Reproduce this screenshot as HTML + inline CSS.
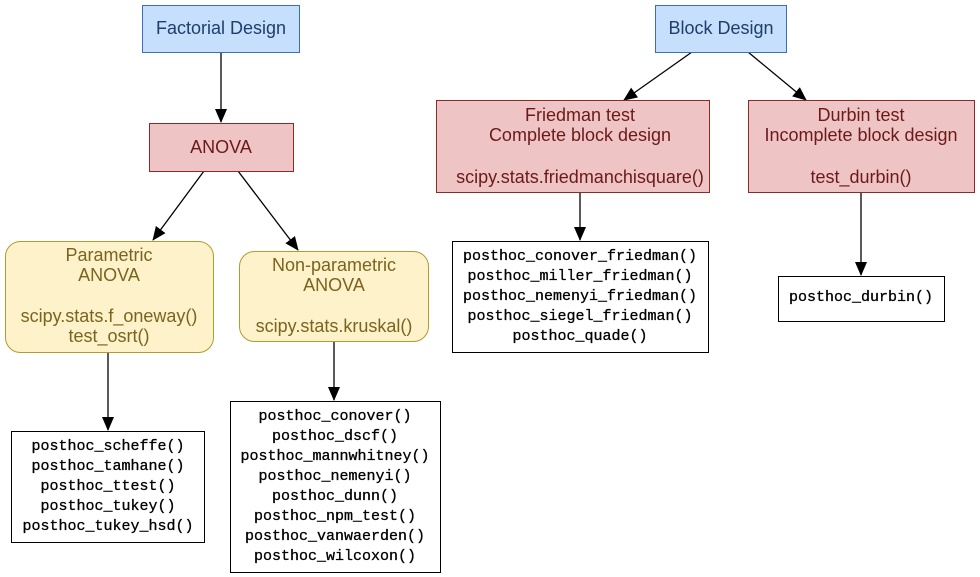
<!DOCTYPE html>
<html><head><meta charset="utf-8"><style>
html,body{margin:0;padding:0;background:#fff}
svg{display:block}
.s{font-family:"Liberation Sans",sans-serif;font-size:18px;text-anchor:middle}
.m{font-family:"Liberation Mono",monospace;font-size:15px;text-anchor:middle;fill:#000;stroke:#000;stroke-width:0.3}
.b{fill:#1f3d6d}.r{fill:#6b1a1a}.y{fill:#7a6420}
</style></head><body>
<svg width="980" height="577" viewBox="0 0 980 577" xmlns="http://www.w3.org/2000/svg">
<defs><marker id="a" markerWidth="14" markerHeight="12" refX="13" refY="6" orient="auto" markerUnits="userSpaceOnUse"><path d="M0,0 L14,6 L0,12 z" fill="#000"/></marker></defs>
<g stroke="#000" stroke-width="1.3" fill="none" marker-end="url(#a)">
<line x1="221" y1="52" x2="221" y2="122"/>
<line x1="204" y1="171" x2="153" y2="240"/>
<line x1="238" y1="171" x2="298" y2="250"/>
<line x1="108" y1="352" x2="108" y2="430"/>
<line x1="334" y1="341" x2="334" y2="400"/>
<line x1="692" y1="52" x2="624" y2="100"/>
<line x1="748" y1="52" x2="806" y2="100"/>
<line x1="580" y1="192" x2="580" y2="240"/>
<line x1="861" y1="192" x2="861" y2="275"/>
</g>
<rect x="142.5" y="5.5" width="157" height="47" fill="#c6dffc" stroke="#3a6fc0"/>
<text class="s b" x="221" y="34">Factorial Design</text>
<rect x="655.5" y="5.5" width="131" height="47" fill="#c6dffc" stroke="#3a6fc0"/>
<text class="s b" x="721" y="34">Block Design</text>
<rect x="149.5" y="123.5" width="144" height="48" fill="#efc4c5" stroke="#8a2a2a"/>
<text class="s r" x="221" y="153">ANOVA</text>
<rect x="436.5" y="100.5" width="273" height="92" fill="#efc4c5" stroke="#8a2a2a"/>
<text class="s r" x="580" y="121">Friedman test</text>
<text class="s r" x="580" y="141">Complete block design</text>
<text class="s r" x="580" y="183">scipy.stats.friedmanchisquare()</text>
<rect x="748.5" y="100.5" width="226" height="92" fill="#efc4c5" stroke="#8a2a2a"/>
<text class="s r" x="861" y="121">Durbin test</text>
<text class="s r" x="861" y="141">Incomplete block design</text>
<text class="s r" x="861" y="183">test_durbin()</text>
<rect x="5.5" y="241.5" width="208" height="111" rx="15" fill="#fdf2c9" stroke="#b59a2e"/>
<text class="s y" x="109" y="261">Parametric</text>
<text class="s y" x="109" y="281">ANOVA</text>
<text class="s y" x="109" y="322">scipy.stats.f_oneway()</text>
<text class="s y" x="109" y="342">test_osrt()</text>
<rect x="239.5" y="251.5" width="189" height="90" rx="15" fill="#fdf2c9" stroke="#b59a2e"/>
<text class="s y" x="334" y="271">Non-parametric</text>
<text class="s y" x="334" y="291">ANOVA</text>
<text class="s y" x="334" y="332">scipy.stats.kruskal()</text>
<rect x="11.5" y="431.5" width="193" height="111" fill="#fff" stroke="#000"/>
<text class="m" x="108" y="450">posthoc_scheffe()</text>
<text class="m" x="108" y="470">posthoc_tamhane()</text>
<text class="m" x="108" y="490">posthoc_ttest()</text>
<text class="m" x="108" y="510">posthoc_tukey()</text>
<text class="m" x="108" y="530">posthoc_tukey_hsd()</text>
<rect x="230.5" y="401.5" width="210" height="171" fill="#fff" stroke="#000"/>
<text class="m" x="335" y="420">posthoc_conover()</text>
<text class="m" x="335" y="440">posthoc_dscf()</text>
<text class="m" x="335" y="460">posthoc_mannwhitney()</text>
<text class="m" x="335" y="480">posthoc_nemenyi()</text>
<text class="m" x="335" y="500">posthoc_dunn()</text>
<text class="m" x="335" y="520">posthoc_npm_test()</text>
<text class="m" x="335" y="540">posthoc_vanwaerden()</text>
<text class="m" x="335" y="560">posthoc_wilcoxon()</text>
<rect x="452.5" y="241.5" width="256" height="111" fill="#fff" stroke="#000"/>
<text class="m" x="580" y="260">posthoc_conover_friedman()</text>
<text class="m" x="580" y="280">posthoc_miller_friedman()</text>
<text class="m" x="580" y="300">posthoc_nemenyi_friedman()</text>
<text class="m" x="580" y="320">posthoc_siegel_friedman()</text>
<text class="m" x="580" y="340">posthoc_quade()</text>
<rect x="778.5" y="276.5" width="166" height="45" fill="#fff" stroke="#000"/>
<text class="m" x="861" y="301">posthoc_durbin()</text>
</svg>
</body></html>
